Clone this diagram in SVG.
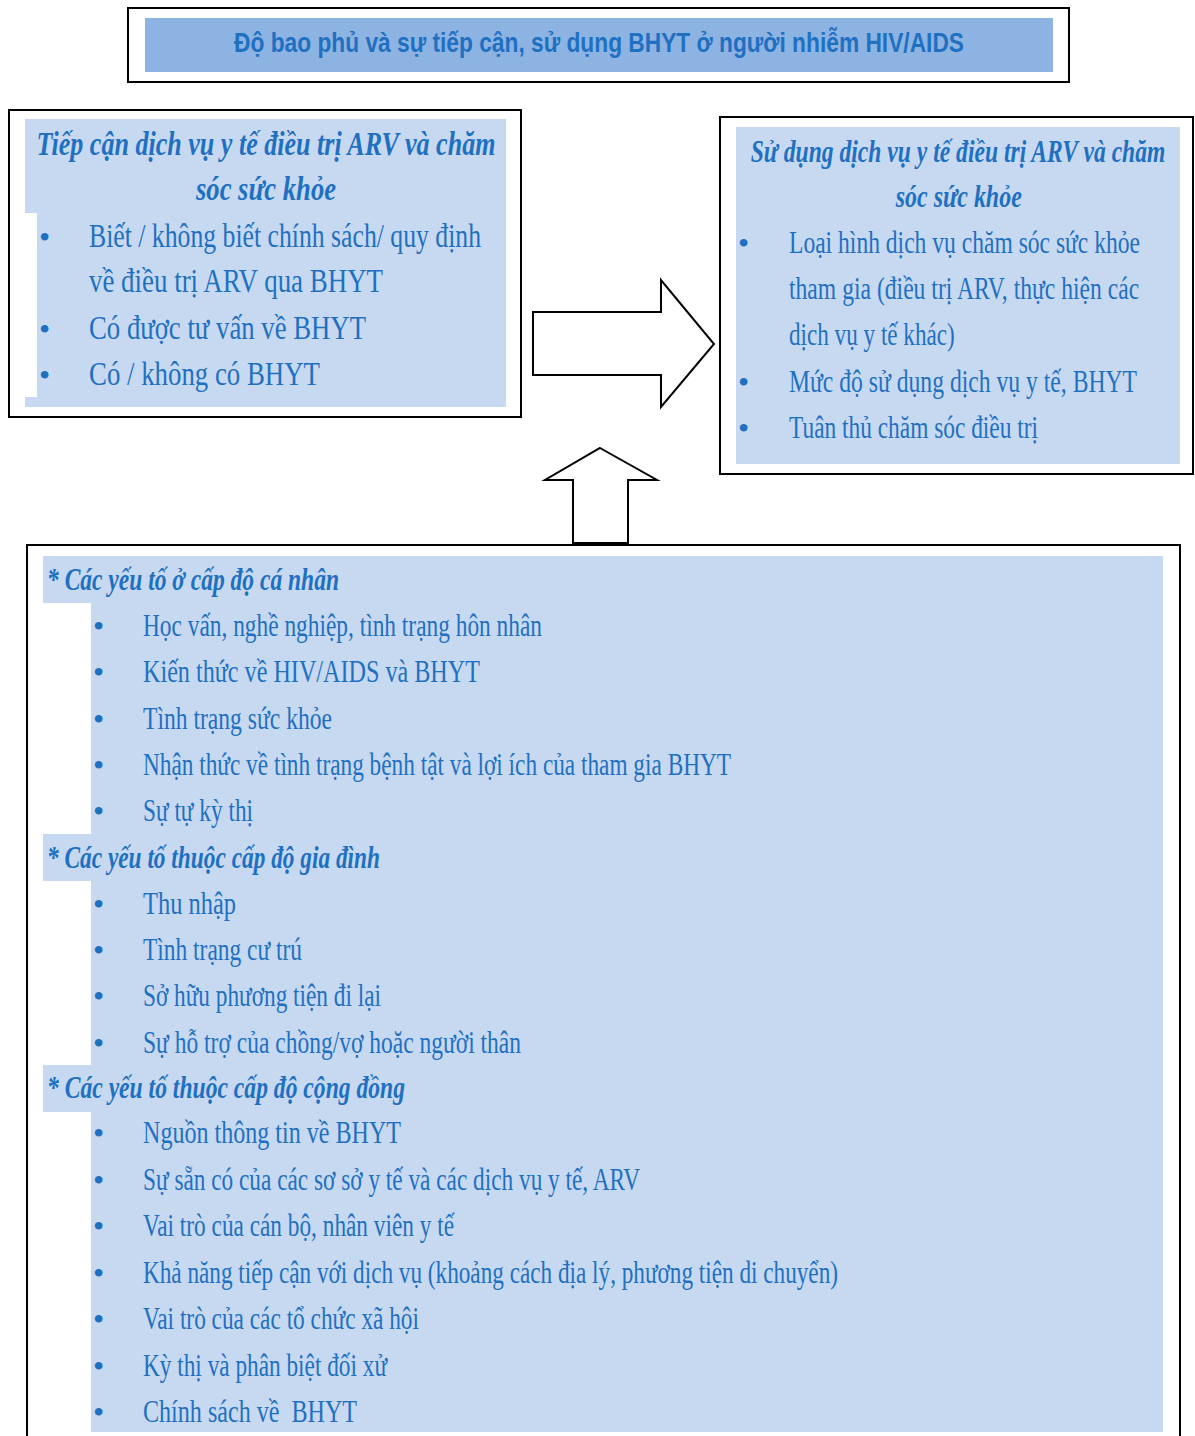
<svg xmlns="http://www.w3.org/2000/svg" width="1195" height="1436" viewBox="0 0 1195 1436">
<style>
.frame{fill:#fff;stroke:#000;stroke-width:2}
.fill{fill:#C6D9F1}
.t{font-family:"Liberation Serif","Times New Roman",serif;fill:#1F70C1}
.h{font-style:italic;font-weight:bold}
.it{font-size:33px}
.itr{font-size:31px}
.itb{font-size:32px}
.bul{font-family:"Liberation Serif",serif;fill:#1F70C1;font-size:32px}
.arrow{fill:#fff;stroke:#000;stroke-width:2;stroke-linejoin:miter}
</style>
<rect width="1195" height="1436" fill="#fff"/>

<g id="title">
<rect class="frame" x="128" y="8" width="941" height="74"/>
<rect x="145" y="18" width="908" height="54" fill="#8DB3E2"/>
<text x="599" y="52" text-anchor="middle" font-family="'Liberation Sans',Arial,sans-serif" font-weight="bold" font-size="27" fill="#1F70C1" textLength="730" lengthAdjust="spacingAndGlyphs">Độ bao phủ và sự tiếp cận, sử dụng BHYT ở người nhiễm HIV/AIDS</text>
</g>

<g id="access">
<rect class="frame" x="9" y="110" width="512" height="307"/>
<path class="fill" d="M25 119H506V407H25V397H37V213H25Z"/>
<text class="t h" x="266" y="155" font-size="34" text-anchor="middle" textLength="459" lengthAdjust="spacingAndGlyphs">Tiếp cận dịch vụ y tế điều trị ARV và chăm</text>
<text class="t h" x="266" y="200" font-size="34" text-anchor="middle" textLength="140" lengthAdjust="spacingAndGlyphs">sóc sức khỏe</text>
<text class="bul" x="39" y="248">•</text>
<text class="t it" x="89" y="247" textLength="392" lengthAdjust="spacingAndGlyphs">Biết / không biết chính sách/ quy định</text>
<text class="t it" x="89" y="292" textLength="294" lengthAdjust="spacingAndGlyphs">về điều trị ARV qua BHYT</text>
<text class="bul" x="39" y="340">•</text>
<text class="t it" x="89" y="339" textLength="277" lengthAdjust="spacingAndGlyphs">Có được tư vấn về BHYT</text>
<text class="bul" x="39" y="386">•</text>
<text class="t it" x="89" y="385" textLength="231" lengthAdjust="spacingAndGlyphs">Có / không có BHYT</text>
</g>

<g id="use">
<rect class="frame" x="720" y="117" width="473" height="357"/>
<rect class="fill" x="736" y="127" width="444" height="337"/>
<g transform="translate(958 0) scale(0.75 1)">
<text class="t h" x="0" y="162" font-size="31" text-anchor="middle" textLength="553" lengthAdjust="spacingAndGlyphs">Sử dụng dịch vụ y tế điều trị ARV và chăm</text>
<text class="t h" x="1" y="207" font-size="31" text-anchor="middle" textLength="168" lengthAdjust="spacingAndGlyphs">sóc sức khỏe</text>
</g>
<text class="bul" x="738" y="254">•</text>
<text class="bul" x="738" y="393">•</text>
<text class="bul" x="738" y="439">•</text>
<g transform="translate(789 0) scale(0.75 1)">
<text class="t itr" x="0" y="253" textLength="468" lengthAdjust="spacingAndGlyphs">Loại hình dịch vụ chăm sóc sức khỏe</text>
<text class="t itr" x="0" y="299" textLength="467" lengthAdjust="spacingAndGlyphs">tham gia (điều trị ARV, thực hiện các</text>
<text class="t itr" x="0" y="345" textLength="221" lengthAdjust="spacingAndGlyphs">dịch vụ y tế khác)</text>
<text class="t itr" x="0" y="392" textLength="464" lengthAdjust="spacingAndGlyphs">Mức độ sử dụng dịch vụ y tế, BHYT</text>
<text class="t itr" x="0" y="438" textLength="332" lengthAdjust="spacingAndGlyphs">Tuân thủ chăm sóc điều trị</text>
</g>
</g>

<g id="factors">
<rect class="frame" x="27" y="545" width="1153" height="900"/>
<path class="fill" d="M43 556H1163V1432H91V1112H43V1065H91V881H43V834H91V603H43Z"/>
<text class="t h" x="47" y="590" font-size="32" textLength="292" lengthAdjust="spacingAndGlyphs">* Các yếu tố ở cấp độ cá nhân</text>
<text class="bul" x="93" y="637">•</text>
<text class="t itb" x="143" y="636" textLength="399" lengthAdjust="spacingAndGlyphs">Học vấn, nghề nghiệp, tình trạng hôn nhân</text>
<text class="bul" x="93" y="683">•</text>
<text class="t itb" x="143" y="682" textLength="337" lengthAdjust="spacingAndGlyphs">Kiến thức về HIV/AIDS và BHYT</text>
<text class="bul" x="93" y="730">•</text>
<text class="t itb" x="143" y="729" textLength="189" lengthAdjust="spacingAndGlyphs">Tình trạng sức khỏe</text>
<text class="bul" x="93" y="776">•</text>
<text class="t itb" x="143" y="775" textLength="588" lengthAdjust="spacingAndGlyphs">Nhận thức về tình trạng bệnh tật và lợi ích của tham gia BHYT</text>
<text class="bul" x="93" y="822">•</text>
<text class="t itb" x="143" y="821" textLength="110" lengthAdjust="spacingAndGlyphs">Sự tự kỳ thị</text>

<text class="t h" x="47" y="868" font-size="32" textLength="333" lengthAdjust="spacingAndGlyphs">* Các yếu tố thuộc cấp độ gia đình</text>
<text class="bul" x="93" y="915">•</text>
<text class="t itb" x="143" y="914" textLength="93" lengthAdjust="spacingAndGlyphs">Thu nhập</text>
<text class="bul" x="93" y="961">•</text>
<text class="t itb" x="143" y="960" textLength="159" lengthAdjust="spacingAndGlyphs">Tình trạng cư trú</text>
<text class="bul" x="93" y="1007">•</text>
<text class="t itb" x="143" y="1006" textLength="238" lengthAdjust="spacingAndGlyphs">Sở hữu phương tiện đi lại</text>
<text class="bul" x="93" y="1054">•</text>
<text class="t itb" x="143" y="1053" textLength="378" lengthAdjust="spacingAndGlyphs">Sự hỗ trợ của chồng/vợ hoặc người thân</text>

<text class="t h" x="47" y="1098" font-size="32" textLength="358" lengthAdjust="spacingAndGlyphs">* Các yếu tố thuộc cấp độ cộng đồng</text>
<text class="bul" x="93" y="1144">•</text>
<text class="t itb" x="143" y="1143" textLength="258" lengthAdjust="spacingAndGlyphs">Nguồn thông tin về BHYT</text>
<text class="bul" x="93" y="1191">•</text>
<text class="t itb" x="143" y="1190" textLength="497" lengthAdjust="spacingAndGlyphs">Sự sẵn có của các sơ sở y tế và các dịch vụ y tế, ARV</text>
<text class="bul" x="93" y="1237">•</text>
<text class="t itb" x="143" y="1236" textLength="311" lengthAdjust="spacingAndGlyphs">Vai trò của cán bộ, nhân viên y tế</text>
<text class="bul" x="93" y="1284">•</text>
<text class="t itb" x="143" y="1283" textLength="695" lengthAdjust="spacingAndGlyphs">Khả năng tiếp cận với dịch vụ (khoảng cách địa lý, phương tiện di chuyển)</text>
<text class="bul" x="93" y="1330">•</text>
<text class="t itb" x="143" y="1329" textLength="276" lengthAdjust="spacingAndGlyphs">Vai trò của các tổ chức xã hội</text>
<text class="bul" x="93" y="1377">•</text>
<text class="t itb" x="143" y="1376" textLength="244" lengthAdjust="spacingAndGlyphs">Kỳ thị và phân biệt đối xử</text>
<text class="bul" x="93" y="1423">•</text>
<text class="t itb" x="143" y="1422" textLength="214" lengthAdjust="spacingAndGlyphs" xml:space="preserve">Chính sách về  BHYT</text>
</g>

<g id="connectors">
<path class="arrow" d="M533 312H661V280L714 344L661 407V375H533Z"/>
<path class="arrow" d="M600 448L657 480H628V543H573V480H545Z"/>
</g>
</svg>
